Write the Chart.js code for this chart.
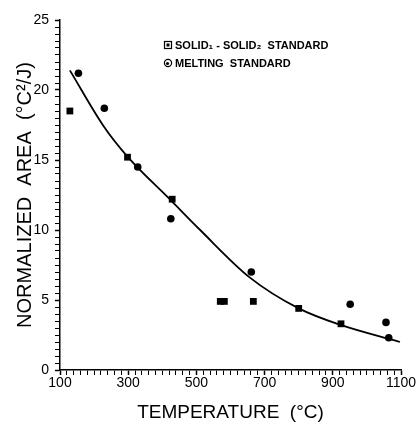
<!DOCTYPE html>
<html>
<head>
<meta charset="utf-8">
<script src="https://cdn.jsdelivr.net/npm/chart.js@4"></script>
<style>
  html, body { margin: 0; padding: 0; background: #fff; }
</style>
</head>
<body>
<canvas id="chart" width="419" height="424"></canvas>
<script>
// values
const solidTemps = [129, 298, 429, 570, 582, 667, 800, 924];
const solidAreas = [18.5, 15.2, 12.2, 4.9, 4.9, 4.9, 4.4, 3.3];
const meltTemps = [154, 230, 328, 425, 661, 951, 1056, 1064];
const meltAreas = [21.2, 18.7, 14.5, 10.8, 7.0, 4.7, 3.4, 2.3];
// fitted curve
const fitTemps = [129, 227, 296, 426, 511, 657, 800, 925, 1097];
const fitAreas = [21.4, 17.45, 15.3, 12.1, 10.0, 6.6, 4.4, 3.2, 2.0];
const xTickLabels = [100, 300, 500, 700, 900, 1100];
const yTickLabels = [0, 5, 10, 15, 20, 25];
const legendLabels = ['SOLID\u2081 - SOLID\u2082  STANDARD', 'MELTING  STANDARD'];

const toPoints = (xs, ys) => xs.map((x, i) => ({ x: x, y: ys[i] }));

// small legend drawn inside the plot, top middle
const insideLegend = {
  id: 'insideLegend',
  afterDraw(chart) {
    const ctx = chart.ctx;
    const area = chart.chartArea;
    const x = area.left + 108;
    const rows = [area.top + 25, area.top + 43];
    ctx.save();
    ctx.fillStyle = '#000';
    ctx.strokeStyle = '#000';
    ctx.lineWidth = 1.2;
    // square with dot
    ctx.strokeRect(x - 3.5, rows[0] - 3.5, 7, 7);
    ctx.fillRect(x - 1.5, rows[0] - 1.5, 3, 3);
    // circle with dot
    ctx.beginPath();
    ctx.arc(x, rows[1], 3.6, 0, Math.PI * 2);
    ctx.stroke();
    ctx.beginPath();
    ctx.arc(x - 0.5, rows[1] + 0.5, 1.6, 0, Math.PI * 2);
    ctx.fill();
    ctx.font = "bold 11px 'Liberation Sans', Arial, sans-serif";
    ctx.textBaseline = 'middle';
    ctx.textAlign = 'left';
    legendLabels.forEach((t, i) => ctx.fillText(t, x + 7, rows[i] + 0.5));
    ctx.restore();
  }
};

const ctx = document.getElementById('chart').getContext('2d');
const chart = new Chart(ctx, {
  type: 'scatter',
  data: {
    datasets: [
      {
        label: 'fit',
        data: toPoints(fitTemps, fitAreas),
        showLine: true,
        borderColor: '#000',
        borderWidth: 1.8,
        pointRadius: 0,
        cubicInterpolationMode: 'monotone',
        order: 2
      },
      {
        label: legendLabels[0],
        data: toPoints(solidTemps, solidAreas),
        pointStyle: 'rect',
        pointRadius: 4.8,
        backgroundColor: '#000',
        borderColor: '#000',
        borderWidth: 0,
        order: 1
      },
      {
        label: legendLabels[1],
        data: toPoints(meltTemps, meltAreas),
        pointStyle: 'circle',
        pointRadius: 3.8,
        backgroundColor: '#000',
        borderColor: '#000',
        borderWidth: 0,
        order: 1
      }
    ]
  },
  options: {
    responsive: false,
    animation: false,
    layout: { padding: { top: 20, right: 18, left: 0, bottom: 0 } },
    plugins: {
      legend: { display: false },
      tooltip: { enabled: false }
    },
    scales: {
      x: {
        type: 'linear',
        min: 100,
        max: 1100,
        afterFit: (s) => { s.height = 54; },
        border: { color: '#000', width: 1.5 },
        grid: {
          drawOnChartArea: false,
          color: '#000',
          tickLength: 5,
          tickWidth: (c) => xTickLabels.includes(c.tick.value) ? 1.5 : 1
        },
        ticks: {
          stepSize: 20,
          maxTicksLimit: 60,
          autoSkip: false,
          maxRotation: 0,
          padding: 0,
          color: '#000',
          font: { family: "'Liberation Sans', Arial, sans-serif", size: 14 },
          callback: (v) => xTickLabels.includes(v) ? String(v) : ''
        },
        title: {
          display: true,
          text: 'TEMPERATURE  (°C)',
          color: '#000',
          font: { family: "'Liberation Sans', Arial, sans-serif", size: 19 },
          padding: { top: 0, bottom: 0 }
        }
      },
      y: {
        min: 0,
        max: 25,
        afterFit: (s) => { s.width = 60; },
        border: { color: '#000', width: 1.5 },
        grid: {
          drawOnChartArea: false,
          color: '#000',
          tickLength: 5,
          tickWidth: (c) => yTickLabels.includes(c.tick.value) ? 1.5 : 1
        },
        ticks: {
          stepSize: 0.5,
          maxTicksLimit: 60,
          autoSkip: false,
          padding: 6,
          color: '#000',
          font: { family: "'Liberation Sans', Arial, sans-serif", size: 14 },
          callback: (v) => yTickLabels.includes(v) ? String(v) : ''
        },
        title: {
          display: true,
          text: 'NORMALIZED  AREA  (°C²/J)',
          color: '#000',
          font: { family: "'Liberation Sans', Arial, sans-serif", size: 20 },
          padding: { top: 13, bottom: 0 }
        }
      }
    }
  },
  plugins: [insideLegend]
});
</script>
</body>
</html>
